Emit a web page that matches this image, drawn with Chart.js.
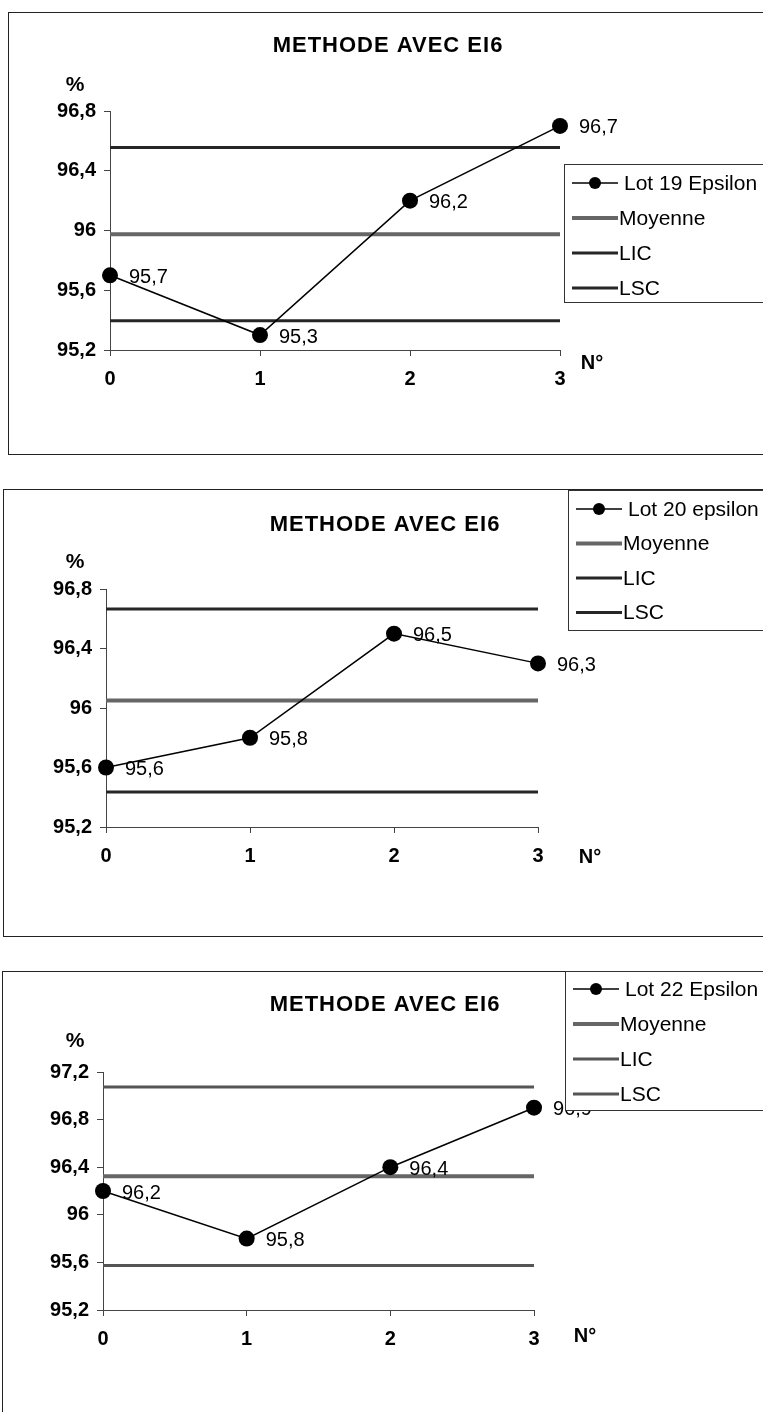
<!DOCTYPE html>
<html>
<head>
<meta charset="utf-8">
<script src="https://cdn.jsdelivr.net/npm/chart.js@4.4.0/dist/chart.umd.min.js"></script>
<style>
  body { margin: 0; background: #fff; width: 763px; height: 1412px; overflow: hidden; position: relative; }
  .frame { position: absolute; border: 1px solid #222; border-right: none; }
  canvas { position: absolute; left: 0; }
</style>
</head>
<body>
<div class="frame" style="left:8px;top:12px;width:770px;height:441px"></div>
<div class="frame" style="left:3px;top:489px;width:770px;height:446px"></div>
<div class="frame" style="left:2px;top:971px;width:770px;height:460px"></div>
<canvas id="c1" width="763" height="470" style="top:0"></canvas>
<canvas id="c2" width="763" height="480" style="top:470px"></canvas>
<canvas id="c3" width="763" height="462" style="top:950px"></canvas>
<script>
// data
const labels = ['0', '1', '2', '3'];
const lot19 = [95.7, 95.3, 96.2, 96.7];
const lot20 = [95.6, 95.8, 96.5, 96.3];
const lot22 = [96.2, 95.8, 96.4, 96.9];
const seriesNames = ['Lot 19 Epsilon', 'Lot 20 epsilon', 'Lot 22 Epsilon'];
const moyennes = [95.975, 96.05, 96.325];
const lic = [95.395, 95.435, 95.575];
const lsc = [96.555, 96.665, 97.075];
const yMin = [95.2, 95.2, 95.2];
const yMax = [96.8, 96.8, 97.2];
const yStep = 0.4;
const title = 'METHODE AVEC EI6';

const FONT = '"Liberation Sans", Arial, Helvetica, sans-serif';
const fmt = v => String(Math.round(v * 10) / 10).replace('.', ',');

// value labels beside the points
const pointLabels = {
  id: 'pointLabels',
  afterDatasetsDraw(chart) {
    let ctx = chart.ctx;
    let meta = chart.getDatasetMeta(0);
    ctx.save();
    ctx.font = '20px ' + FONT;
    ctx.fillStyle = '#000';
    ctx.textBaseline = 'middle';
    meta.data.forEach((pt, i) => {
      ctx.fillText(fmt(chart.data.datasets[0].data[i]), pt.x + 19, pt.y + 2);
    });
    ctx.restore();
  }
};

// title, axis names
const extraText = {
  id: 'extraText',
  afterDraw(chart, args, o) {
    let ctx = chart.ctx;
    ctx.save();
    ctx.fillStyle = '#000';
    ctx.textAlign = 'center';
    ctx.textBaseline = 'middle';
    ctx.font = 'bold 22px ' + FONT;
    ctx.letterSpacing = '1px';
    ctx.fillText(o.title, o.titleX, o.titleY);
    ctx.letterSpacing = '0px';
    ctx.font = 'bold 21px ' + FONT;
    ctx.fillText('%', o.pctX, o.pctY);
    ctx.font = 'bold 20px ' + FONT;
    ctx.fillText('N°', o.noX, o.noY);
    ctx.restore();
  }
};

// legend box, drawn over everything
const legendBox = {
  id: 'legendBox',
  afterDraw(chart, args, o) {
    let ctx = chart.ctx;
    ctx.save();
    ctx.fillStyle = '#fff';
    ctx.fillRect(o.x, o.y, o.w, o.h);
    ctx.strokeStyle = '#333';
    ctx.lineWidth = 1;
    ctx.strokeRect(o.x + 0.5, o.y + 0.5, o.w, o.h);
    chart.data.datasets.forEach((ds, i) => {
      let y = o.y + o.first + i * o.gap;
      ctx.strokeStyle = ds.borderColor;
      ctx.lineWidth = ds.borderWidth;
      ctx.beginPath();
      ctx.moveTo(o.x + 8, y);
      ctx.lineTo(o.x + 54, y);
      ctx.stroke();
      if (ds.pointRadius) {
        ctx.fillStyle = '#000';
        ctx.beginPath();
        ctx.arc(o.x + 31, y, 6, 0, Math.PI * 2);
        ctx.fill();
      }
      ctx.fillStyle = '#000';
      ctx.font = '21px ' + FONT;
      ctx.textBaseline = 'middle';
      ctx.fillText(ds.label, o.x + (i === 0 ? 60 : 55), y + 1);
    });
    ctx.restore();
  }
};

function refLine(label, value, color, width) {
  return {
    label: label,
    data: labels.map(() => value),
    borderColor: color,
    backgroundColor: color,
    borderWidth: width,
    pointRadius: 0,
    fill: false,
    order: 2
  };
}

function makeChart(id, k, box) {
  let ctx = document.getElementById(id).getContext('2d');
  let series = [lot19, lot20, lot22][k];
  let limColor = k === 2 ? '#555' : '#262626';
  let yW = 70, xH = 40;
  return new Chart(ctx, {
    type: 'line',
    data: {
      labels: labels,
      datasets: [
        {
          label: seriesNames[k],
          data: series,
          borderColor: '#000',
          backgroundColor: '#000',
          borderWidth: 1.5,
          pointRadius: 8,
          pointBackgroundColor: '#000',
          pointBorderWidth: 0,
          tension: 0,
          order: 0
        },
        refLine('Moyenne', moyennes[k], '#666', 4),
        refLine('LIC', lic[k], limColor, 3),
        refLine('LSC', lsc[k], limColor, 3)
      ]
    },
    options: {
      responsive: false,
      animation: false,
      events: [],
      layout: {
        padding: {
          left: box.left - yW,
          top: box.top,
          right: 763 - box.right,
          bottom: box.canvasH - box.bottom - xH
        }
      },
      plugins: {
        legend: { display: false },
        tooltip: { enabled: false },
        extraText: box.text,
        legendBox: box.legend
      },
      scales: {
        x: {
          type: 'category',
          offset: false,
          afterFit: s => { s.height = xH; },
          grid: { drawOnChartArea: false, drawTicks: true, tickLength: 6, color: '#444' },
          border: { color: '#444', width: 1 },
          ticks: { color: '#000', padding: 11, font: { family: FONT, size: 20, weight: 'bold' } }
        },
        y: {
          min: yMin[k],
          max: yMax[k],
          afterFit: s => { s.width = yW; },
          afterBuildTicks: s => {
            s.ticks = [];
            for (let v = yMin[k]; v <= yMax[k] + 1e-9; v += yStep) s.ticks.push({ value: Math.round(v * 10) / 10 });
          },
          grid: { drawOnChartArea: false, drawTicks: true, tickLength: 6, color: '#444' },
          border: { color: '#444', width: 1 },
          ticks: {
            color: '#000',
            padding: 8,
            font: { family: FONT, size: 20, weight: 'bold' },
            callback: v => fmt(v)
          }
        }
      }
    },
    plugins: [pointLabels, extraText, legendBox]
  });
}

makeChart('c1', 0, {
  left: 110, right: 560, top: 111, bottom: 350, canvasH: 470,
  text: { title: title, titleX: 388, titleY: 46, pctX: 75, pctY: 85, noX: 592, noY: 363 },
  legend: { x: 564, y: 164, w: 210, h: 138, first: 19, gap: 35 }
});
makeChart('c2', 1, {
  left: 106, right: 538, top: 119, bottom: 357, canvasH: 480,
  text: { title: title, titleX: 385, titleY: 55, pctX: 75, pctY: 92, noX: 590, noY: 387 },
  legend: { x: 568, y: 20, w: 210, h: 140, first: 19, gap: 34.5 }
});
makeChart('c3', 2, {
  left: 103, right: 534, top: 122, bottom: 360, canvasH: 462,
  text: { title: title, titleX: 385, titleY: 55, pctX: 75, pctY: 91, noX: 585, noY: 386 },
  legend: { x: 565, y: 21, w: 210, h: 139, first: 18, gap: 35 }
});
</script>
</body>
</html>
